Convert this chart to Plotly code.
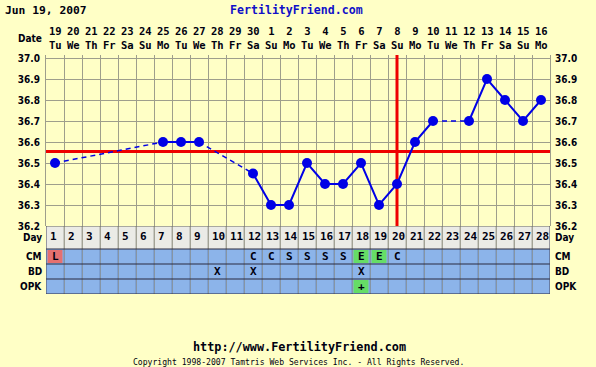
import plotly.graph_objects as go

# ---------------- data ----------------
date_nums = ["19", "20", "21", "22", "23", "24", "25", "26", "27", "28", "29", "30",
             "1", "2", "3", "4", "5", "6", "7", "8", "9", "10", "11", "12", "13", "14", "15", "16"]
weekdays = ["Tu", "We", "Th", "Fr", "Sa", "Su", "Mo", "Tu", "We", "Th", "Fr", "Sa", "Su", "Mo",
            "Tu", "We", "Th", "Fr", "Sa", "Su", "Mo", "Tu", "We", "Th", "Fr", "Sa", "Su", "Mo"]
cycle_days = list(range(1, 29))
temps = [36.5, None, None, None, None, None, 36.6, 36.6, 36.6, None, None, 36.45,
         36.3, 36.3, 36.5, 36.4, 36.4, 36.5, 36.3, 36.4, 36.6, 36.7, None, 36.7,
         36.9, 36.8, 36.7, 36.8]
temp_ticks = [36.2, 36.3, 36.4, 36.5, 36.6, 36.7, 36.8, 36.9, 37.0]
coverline = 36.555
ovulation_day = 20
cm = ["L", "", "", "", "", "", "", "", "", "", "", "C", "C", "S", "S", "S", "S", "E",
      "E", "C", "", "", "", "", "", "", "", ""]
bd = ["", "", "", "", "", "", "", "", "", "X", "", "X", "", "", "", "", "", "X",
      "", "", "", "", "", "", "", "", "", ""]
opk = ["", "", "", "", "", "", "", "", "", "", "", "", "", "", "", "", "", "+",
       "", "", "", "", "", "", "", "", "", ""]
row_names = ["Day", "CM", "BD", "OPK"]
chart_date = "Jun 19, 2007"
site_name = "FertilityFriend.com"
site_url = "http://www.FertilityFriend.com"
copyright_text = "Copyright 1998-2007 Tamtris Web Services Inc. - All Rights Reserved."

# ---------------- styles ----------------
BG = "#FFFFC6"
GRID = "#9E9E8C"
BLUE = "#0000E6"
CELL_BLUE = "#8CB4EA"
DAY_GRAY = "#EBEBE6"
HIGHLIGHT = {"L": "#E57070", "E": "#66DD66", "+": "#66DD66"}
FONT = "DejaVu Sans Condensed, DejaVu Sans"
MONO = "DejaVu Sans Mono"
TXT = "#000010"

n = len(cycle_days)
# table rows in y2 units (pixels): OPK, BD, CM, Day
row_bounds = {"OPK": (0, 15), "BD": (15, 30), "CM": (30, 45), "Day": (45, 68)}
table_h = 68
temp_h = 171
total_h = table_h + temp_h
top_pad = 0.0143

fig = go.Figure()

# dashed connectors across missing days
dx, dy = [], []
last = None
for d, t in zip(cycle_days, temps):
    if t is None:
        continue
    if last is not None and d - last[0] > 1:
        dx += [last[0], d, None]
        dy += [last[1], t, None]
    last = (d, t)

fig.add_trace(go.Scatter(x=dx, y=dy, mode="lines", yaxis="y3",
                         line=dict(color=BLUE, width=1.5, dash="5px,4px"),
                         hoverinfo="skip", showlegend=False))
fig.add_trace(go.Scatter(x=cycle_days, y=temps, mode="lines+markers", yaxis="y",
                         connectgaps=False,
                         line=dict(color=BLUE, width=2),
                         marker=dict(color=BLUE, size=10),
                         showlegend=False))

shapes = []
# table row backgrounds
for name, (y0, y1) in row_bounds.items():
    shapes.append(dict(type="rect", xref="x", yref="y2", x0=0.5, x1=n + 0.5, y0=y0, y1=y1,
                       fillcolor=DAY_GRAY if name == "Day" else CELL_BLUE,
                       line=dict(width=0), layer="below"))
# highlighted cells
for name, vals in (("CM", cm), ("BD", bd), ("OPK", opk)):
    y0, y1 = row_bounds[name]
    for d, v in zip(cycle_days, vals):
        if v in HIGHLIGHT:
            shapes.append(dict(type="rect", xref="x", yref="y2",
                               xsizemode="pixel", xanchor=d, x0=-7.5, x1=7.5,
                               ysizemode="pixel", yanchor=(y0 + y1) / 2, y0=-6.5, y1=6.5,
                               fillcolor=HIGHLIGHT[v], line=dict(width=0), layer="below"))
# vertical separators in the table
for d in cycle_days[:-1]:
    shapes.append(dict(type="line", xref="x", yref="y2", x0=d + 0.5, x1=d + 0.5,
                       y0=0, y1=row_bounds["CM"][1], line=dict(color="#6E8CBC", width=1)))
    shapes.append(dict(type="line", xref="x", yref="y2", x0=d + 0.5, x1=d + 0.5,
                       y0=row_bounds["Day"][0], y1=row_bounds["Day"][1],
                       line=dict(color="#A8A8A0", width=1)))
# horizontal row separators
for yv in (0, 15, 30, 45):
    shapes.append(dict(type="line", xref="x", yref="y2", x0=0.5, x1=n + 0.5, y0=yv, y1=yv,
                       line=dict(color="#2A2A40", width=1)))
shapes.append(dict(type="line", xref="x", yref="y2", x0=0.5, x1=n + 0.5, y0=table_h, y1=table_h,
                   line=dict(color="#66665A", width=1)))
for xv in (0.5, n + 0.5):
    shapes.append(dict(type="line", xref="x", yref="y2", x0=xv, x1=xv, y0=0, y1=table_h,
                       line=dict(color="#44445A", width=1)))
# coverline & ovulation line
shapes.append(dict(type="line", xref="x", yref="y", x0=0.5, x1=n + 0.5, y0=coverline, y1=coverline,
                   line=dict(color="#EE0000", width=3), layer="between"))
shapes.append(dict(type="line", xref="x", yref="y", x0=ovulation_day, x1=ovulation_day,
                   y0=temp_ticks[0], y1=temp_ticks[-1] + top_pad,
                   line=dict(color="#EE0000", width=3), layer="between"))

ann = []
f10 = dict(family=FONT, size=10, color=TXT, weight="bold")
fm = dict(family=MONO, size=11, color=TXT, weight="bold")
# dates on top (two lines in one text)
for d, num, wd in zip(cycle_days, date_nums, weekdays):
    ann.append(dict(x=d, y=1, xref="x", yref="paper", text=f"{num}<br>{wd}", showarrow=False,
                    xanchor="center", yanchor="middle", yshift=17,
                    font=dict(family=MONO, size=10.5, color=TXT, weight="bold")))
ann.append(dict(x=0, y=1, xref="paper", yref="paper", text="Date", showarrow=False,
                xanchor="right", yanchor="middle", xshift=-2, yshift=17, font=f10))
# day numbers
dy0, dy1 = row_bounds["Day"]
for d in cycle_days:
    ann.append(dict(x=d, y=(dy0 + dy1) / 2, xref="x", yref="y2", text=str(d), showarrow=False,
                    xanchor="left", yanchor="middle", xshift=-7, yshift=1, font=fm))
# table entries
for name, vals in (("CM", cm), ("BD", bd), ("OPK", opk)):
    y0, y1 = row_bounds[name]
    for d, v in zip(cycle_days, vals):
        if v:
            ann.append(dict(x=d, y=(y0 + y1) / 2, xref="x", yref="y2", text=v, showarrow=False,
                            xanchor="center", yanchor="middle", font=fm))
# row labels both sides
for name in row_names:
    y0, y1 = row_bounds[name]
    ann.append(dict(x=0, y=(y0 + y1) / 2, xref="paper", yref="y2", text=name, showarrow=False,
                    xanchor="right", yanchor="middle", xshift=-2, font=f10))
    ann.append(dict(x=1, y=(y0 + y1) / 2, xref="paper", yref="y2", text=name, showarrow=False,
                    xanchor="left", yanchor="middle", xshift=3, font=f10))
# titles
ann.append(dict(x=0, y=1, xref="paper", yref="paper", text=chart_date, showarrow=False,
                xanchor="left", yanchor="middle", xshift=-43, yshift=45,
                font=dict(family=MONO, size=11.3, color=TXT, weight="bold")))
ann.append(dict(x=0.5, y=1, xref="paper", yref="paper", text=site_name, showarrow=False,
                xanchor="center", yanchor="middle", yshift=45, xshift=-2,
                font=dict(family=MONO, size=11.6, color="#1010C8", weight="bold")))
ann.append(dict(x=0.5, y=0, xref="paper", yref="paper", text=site_url, showarrow=False,
                xanchor="center", yanchor="middle", yshift=-53, xshift=1,
                font=dict(family=MONO, size=11.8, color=TXT, weight="bold")))
ann.append(dict(x=0.5, y=0, xref="paper", yref="paper", text=copyright_text, showarrow=False,
                xanchor="center", yanchor="middle", yshift=-68,
                font=dict(family=MONO, size=8.1, color=TXT)))

tick_text = [f"{t:.1f}" for t in temp_ticks]
yrange = [temp_ticks[0], temp_ticks[-1] + top_pad]
ydom = [table_h / total_h, 1]

fig.update_layout(
    width=596, height=367,
    margin=dict(l=46, r=46, t=55, b=73, pad=0),
    paper_bgcolor=BG, plot_bgcolor=BG,
    shapes=shapes, annotations=ann,
    xaxis=dict(range=[0.5, n + 0.5], tickvals=[d - 0.5 for d in cycle_days] + [n + 0.5],
               showticklabels=False, showgrid=True, gridcolor=GRID, gridwidth=1,
               zeroline=False, ticks="", anchor="y2", showline=False),
    yaxis=dict(domain=ydom, range=yrange, tickvals=temp_ticks, ticktext=tick_text,
               showgrid=True, gridcolor=GRID, gridwidth=1, zeroline=False,
               showline=True, mirror=True, linecolor=GRID,
               ticks="outside", ticklen=3, tickcolor=BG,
               tickfont=f10, anchor="x"),
    yaxis3=dict(overlaying="y", side="right", range=yrange, tickvals=temp_ticks, ticktext=tick_text,
                showgrid=False, zeroline=False, ticks="outside", ticklen=2, tickcolor=BG,
                tickfont=f10, anchor="x"),
    yaxis2=dict(domain=[0, table_h / total_h], range=[0, table_h], showgrid=False,
                showticklabels=False, zeroline=False, ticks="", anchor="x"),
    showlegend=False,
)

fig.write_html("out.html", config={"displayModeBar": False},
               post_script="document.body.style.margin='0';document.body.style.padding='0';"
                           "document.body.style.background='" + BG + "';")
